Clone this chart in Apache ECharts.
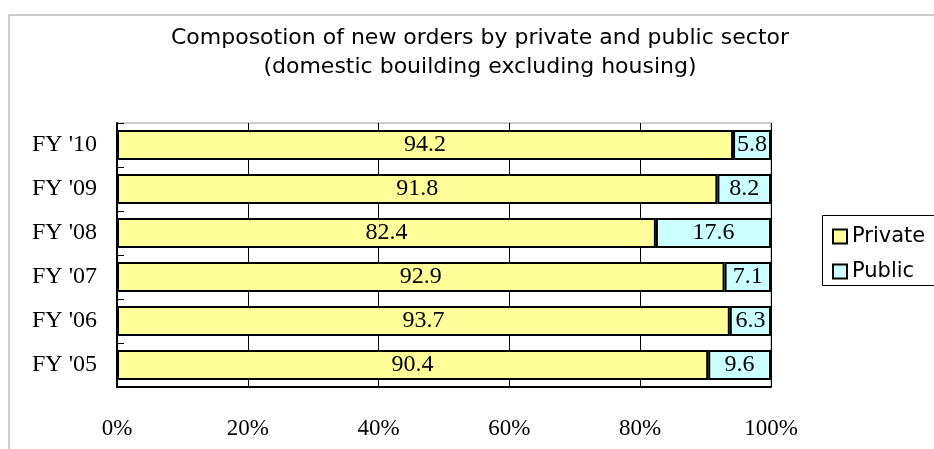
<!DOCTYPE html>
<html>
<head>
<meta charset="utf-8">
<script src="https://cdn.jsdelivr.net/npm/echarts@6/dist/echarts.min.js"></script>
<style>
  html, body { margin: 0; padding: 0; background: #fff; }
  #chart { width: 934px; height: 449px; }
</style>
</head>
<body>
<div id="chart"></div>
<script>
// 年度
const categories = ["FY '05", "FY '06", "FY '07", "FY '08", "FY '09", "FY '10"]
// 民間
const privateValues = [90.4, 93.7, 92.9, 82.4, 91.8, 94.2]
// 公共
const publicValues = [9.6, 6.3, 7.1, 17.6, 8.2, 5.8]
const xTicks = [0, 20, 40, 60, 80, 100]

const serif = 'Liberation Serif'
const gothic = 'DejaVu Sans'

const chart = echarts.init(document.getElementById('chart'))

const barLabel = {
  show: true,
  position: 'inside',
  color: '#000',
  fontFamily: serif,
  fontSize: 24,
  formatter: p => p.value.toFixed(1)
}

const option = {
  animation: false,
  title: {
    text: 'Composotion of new orders by private and public sector\n(domestic bouilding excluding housing)',
    left: 480,
    textAlign: 'center',
    top: 24,
    padding: 0,
    textStyle: {
      fontFamily: gothic,
      fontWeight: 'normal',
      fontSize: 22,
      lineHeight: 29,
      color: '#000'
    }
  },
  legend: {
    orient: 'vertical',
    left: 822,
    top: 215,
    padding: [11, 10, 4, 10],
    itemGap: 14,
    itemWidth: 14,
    itemHeight: 14,
    icon: 'rect',
    borderWidth: 0,
    textStyle: { fontFamily: gothic, fontSize: 21, color: '#000' },
    data: ['Private', 'Public']
  },
  grid: {
    left: 117,
    right: 163,
    top: 123,
    bottom: 62,
    show: true,
    borderColor: '#999',
    borderWidth: 1
  },
  xAxis: {
    type: 'value',
    min: 0,
    max: 100,
    interval: 20,
    axisLine: { show: true, lineStyle: { color: '#000', width: 2 } },
    axisTick: { show: false },
    splitLine: { show: true, lineStyle: { color: '#000', width: 1 } },
    axisLabel: {
      margin: 30,
      color: '#000',
      fontFamily: serif,
      fontSize: 23,
      formatter: v => xTicks.includes(v) ? v + '%' : ''
    }
  },
  yAxis: {
    type: 'category',
    data: categories,
    axisLine: { show: true, lineStyle: { color: '#000', width: 2 } },
    axisTick: { show: true, inside: true, length: 7, lineStyle: { color: '#000' } },
    axisLabel: { margin: 20, color: '#000', fontFamily: serif, fontSize: 24 }
  },
  series: [
    {
      name: 'Private',
      type: 'bar',
      stack: 'total',
      barWidth: 30,
      data: privateValues,
      label: barLabel,
      itemStyle: { color: '#FFFF99', borderColor: '#000', borderWidth: 2 }
    },
    {
      name: 'Public',
      type: 'bar',
      stack: 'total',
      barWidth: 30,
      data: publicValues,
      label: barLabel,
      itemStyle: { color: '#CCFFFF', borderColor: '#000', borderWidth: 2 }
    }
  ],
  graphic: [
    {
      // 外枠
      type: 'polyline',
      silent: true,
      shape: { points: [[9, 449], [9, 15], [934, 15]] },
      style: { stroke: '#999', lineWidth: 1, fill: null }
    },
    {
      // 凡例の枠 (右端は画面外)
      type: 'rect',
      silent: true,
      shape: { x: 822.5, y: 215.5, width: 140, height: 70 },
      style: { stroke: '#000', lineWidth: 1, fill: null }
    }
  ]
}

chart.setOption(option)
</script>
</body>
</html>
